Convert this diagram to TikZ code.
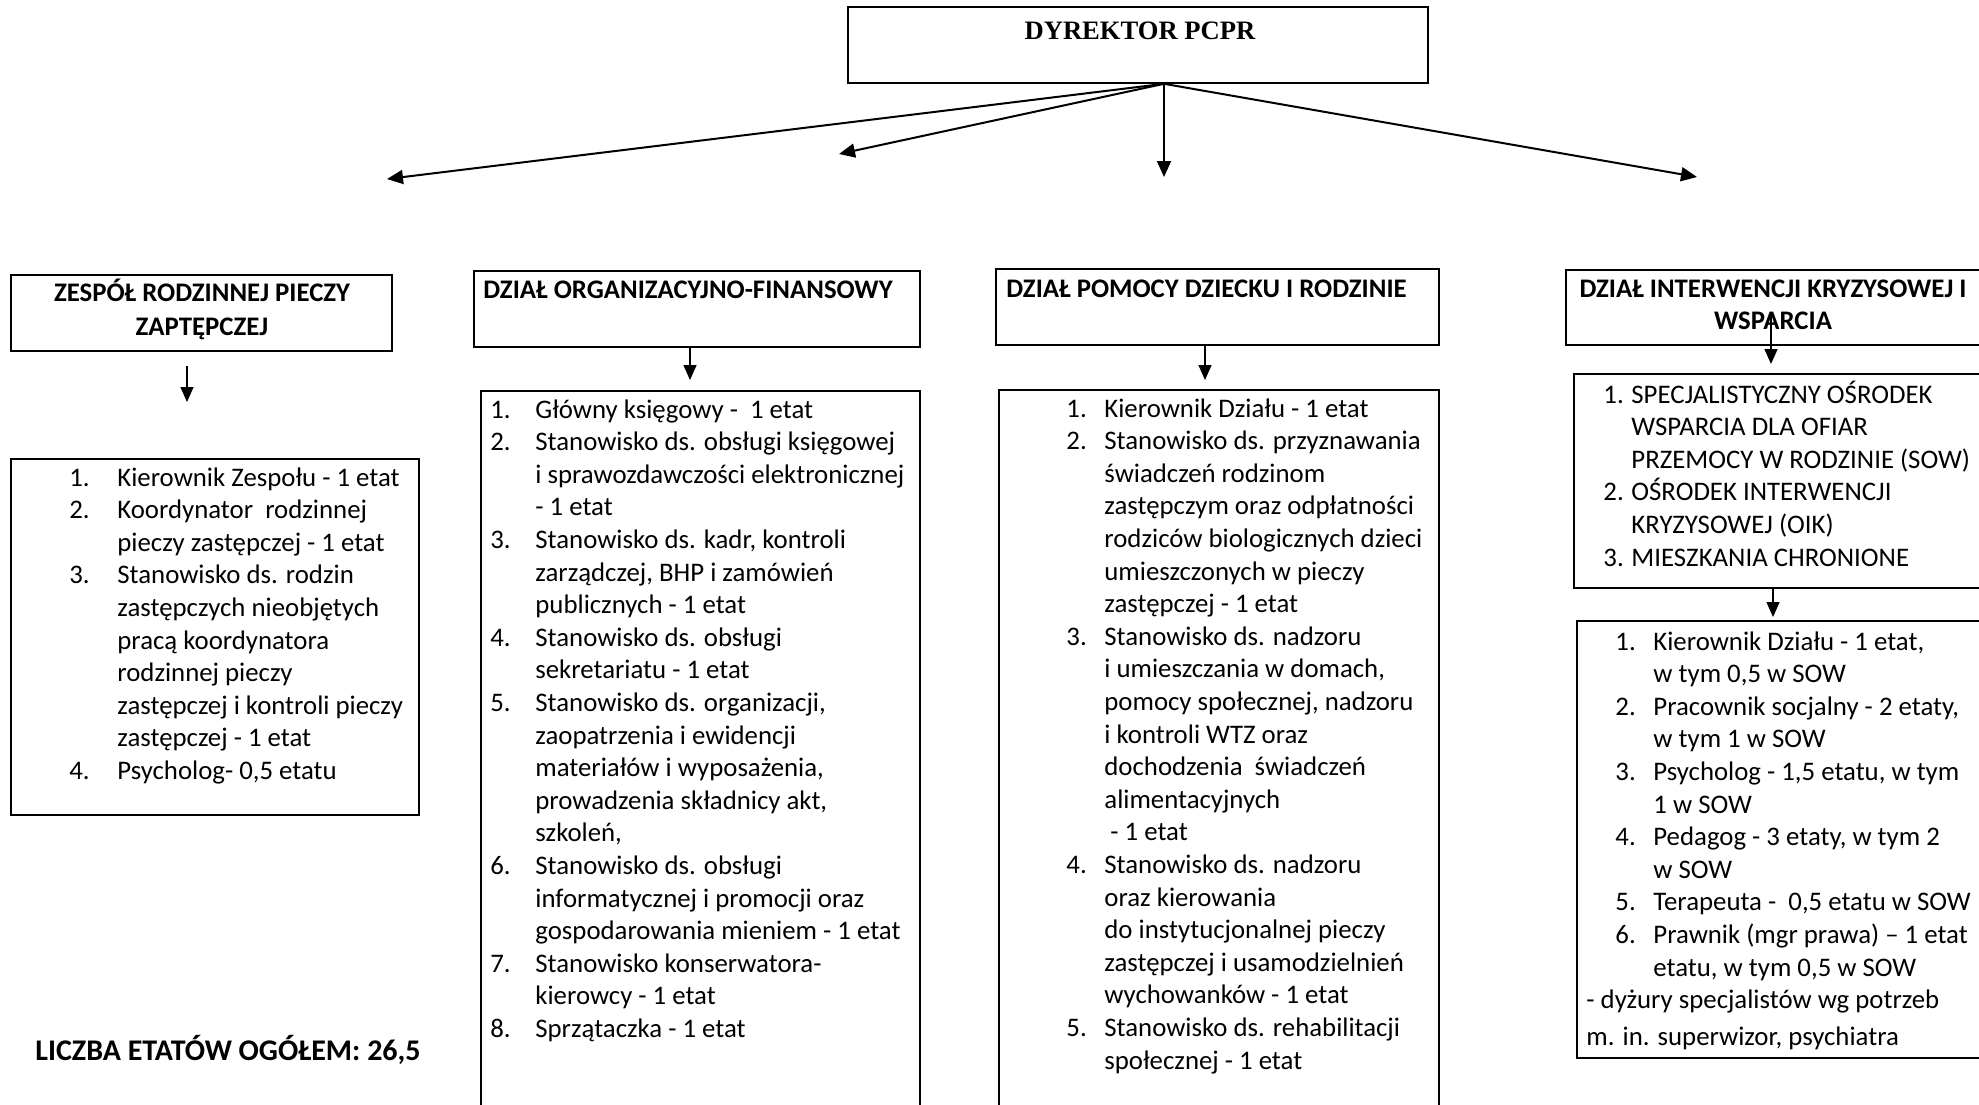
\documentclass[tikz,border=0pt]{standalone}
\usepackage{fontspec}
\setmainfont{Carlito}
\newfontfamily\dyrfont{Liberation Serif}
\usetikzlibrary{arrows.meta,positioning,calc,fit}

\newcommand{\bodysize}{\fontsize{13.4}{16.3}\selectfont}

\tikzset{
  orgbox/.style={draw, line width=0.8pt, inner sep=0pt},
  headtext/.style={inner sep=0pt, font=\bodysize\bfseries},
  listtext/.style={anchor=base west, inner sep=0pt, font=\bodysize},
  toparrow/.style={line width=1pt, -{Triangle[length=8pt,width=7pt]}},
  downarrow/.style={line width=0.7pt, -{Triangle[length=7.5pt,width=6.5pt]}}
}

\begin{document}
\begin{tikzpicture}[x=0.5pt, y=0.5pt]
  \path[use as bounding box, clip] (0,0) rectangle (1979,-1104);

  % dyrektor
  \node[orgbox, fit={(848,-7) (1428,-83)}] (dyr) {};
  \node[inner sep=0pt, anchor=base, font=\dyrfont\fontsize{13.3}{16}\selectfont\bfseries] (dyrText) at (1140,-39) {DYREKTOR PCPR};

  \coordinate (dyrFoot) at ([xshift=13pt]dyr.south);
  \coordinate (tipZrp) at (387,-179);
  \coordinate (tipOf) at (839,-154);
  \coordinate (tipDpd) at (1164,-177);
  \coordinate (tipDik) at (1697,-177);
  \foreach \t in {tipZrp,tipOf,tipDpd,tipDik}
    \draw[toparrow] (dyrFoot) -- (\t);

  % zespol rodzinnej pieczy
  \node[orgbox, fit={(11,-275) (392,-351)}] (zrpHead) {};
  \node[headtext, anchor=base] (zrpHeadText) at (202,-301) {%
    \begin{tabular}[t]{@{}c@{}}ZESPÓŁ RODZINNEJ PIECZY\\[0.7pt] ZAPTĘPCZEJ\end{tabular}};
  \coordinate (zrpArrTop) at (187,-366);
  \coordinate (zrpArrTip) at (187,-402);
  \draw[downarrow] (zrpArrTop) -- (zrpArrTip);
  \node[orgbox, fit={(11,-459) (419,-815)}] (zrpBody) {};
  \node[listtext] (zrpList) at (69,-486) {%
    \begin{tabular}[t]{@{}p{24pt}@{}l@{}}
    1. & Kierownik Zespołu - 1 etat\\
    2. & Koordynator\ \ rodzinnej\\
       & pieczy zastępczej - 1 etat\\
    3. & Stanowisko ds. rodzin\\
       & zastępczych nieobjętych\\
       & pracą koordynatora\\
       & rodzinnej pieczy\\
       & zastępczej i kontroli pieczy\\
       & zastępczej - 1 etat\\
    4. & Psycholog- 0,5 etatu
    \end{tabular}};

  \node[anchor=base west, inner sep=0pt, font=\fontsize{15}{18}\selectfont\bfseries] (liczba) at (35,-1060) {LICZBA ETATÓW OGÓŁEM: 26,5};

  % dzial organizacyjno-finansowy
  \node[orgbox, fit={(474,-271) (920,-347)}] (ofHead) {};
  \node[headtext, anchor=base west] (ofHeadText) at (483,-298) {DZIAŁ ORGANIZACYJNO-FINANSOWY};
  \coordinate (ofTip) at (690,-380);
  \draw[downarrow] (ofHead.south -| ofTip) -- (ofTip);
  \node[orgbox, fit={(481,-391) (920,-1120)}] (ofBody) {};
  \node[listtext] (ofList) at (490,-418) {%
    \begin{tabular}[t]{@{}p{22.5pt}@{}l@{}}
    1. & Główny księgowy -\ \ 1 etat\\
    2. & Stanowisko ds. obsługi księgowej\\
       & i sprawozdawczości elektronicznej\\
       & - 1 etat\\
    3. & Stanowisko ds. kadr, kontroli\\
       & zarządczej, BHP i zamówień\\
       & publicznych - 1 etat\\
    4. & Stanowisko ds. obsługi\\
       & sekretariatu - 1 etat\\
    5. & Stanowisko ds. organizacji,\\
       & zaopatrzenia i ewidencji\\
       & materiałów i wyposażenia,\\
       & prowadzenia składnicy akt,\\
       & szkoleń,\\
    6. & Stanowisko ds. obsługi\\
       & informatycznej i promocji oraz\\
       & gospodarowania mieniem - 1 etat\\
    7. & Stanowisko konserwatora-\\
       & kierowcy - 1 etat\\
    8. & Sprzątaczka - 1 etat
    \end{tabular}};

  % dzial pomocy dziecku i rodzinie
  \node[orgbox, fit={(996,-269) (1439,-345)}] (dpdHead) {};
  \node[headtext, anchor=base west] (dpdHeadText) at (1006,-297) {DZIAŁ POMOCY DZIECKU I RODZINIE};
  \coordinate (dpdTip) at (1205,-380);
  \draw[downarrow] (dpdHead.south -| dpdTip) -- (dpdTip);
  \node[orgbox, fit={(999,-390) (1439,-1120)}] (dpdBody) {};
  \node[listtext] (dpdList) at (1066,-417) {%
    \begin{tabular}[t]{@{}p{19pt}@{}l@{}}
    1. & Kierownik Działu - 1 etat\\
    2. & Stanowisko ds. przyznawania\\
       & świadczeń rodzinom\\
       & zastępczym oraz odpłatności\\
       & rodziców biologicznych dzieci\\
       & umieszczonych w pieczy\\
       & zastępczej - 1 etat\\
    3. & Stanowisko ds. nadzoru\\
       & i umieszczania w domach,\\
       & pomocy społecznej, nadzoru\\
       & i kontroli WTZ oraz\\
       & dochodzenia\ \ świadczeń\\
       & alimentacyjnych\\
       & \ - 1 etat\\
    4. & Stanowisko ds. nadzoru\\
       & oraz kierowania\\
       & do instytucjonalnej pieczy\\
       & zastępczej i usamodzielnień\\
       & wychowanków - 1 etat\\
    5. & Stanowisko ds. rehabilitacji\\
       & społecznej - 1 etat
    \end{tabular}};

  % dzial interwencji kryzysowej i wsparcia
  \node[orgbox, fit={(1566,-270) (1985,-345)}] (dikHead) {};
  \node[headtext, anchor=base] (dikHeadText) at (1773,-297) {%
    \begin{tabular}[t]{@{}c@{}}DZIAŁ INTERWENCJI KRYZYSOWEJ I\\ WSPARCIA\end{tabular}};
  \coordinate (dikStart) at (1771,-313);
  \coordinate (dikTip) at (1771,-364);
  \draw[downarrow] (dikStart) -- (dikTip);
  \node[orgbox, fit={(1574,-374) (1985,-588)}] (dikInst) {};
  \node[listtext] (dikInstList) at (1603,-403) {%
    \begin{tabular}[t]{@{}p{14pt}@{}l@{}}
    1. & SPECJALISTYCZNY OŚRODEK\\
       & WSPARCIA DLA OFIAR\\
       & PRZEMOCY W RODZINIE (SOW)\\
    2. & OŚRODEK INTERWENCJI\\
       & KRYZYSOWEJ (OIK)\\
    3. & MIESZKANIA CHRONIONE
    \end{tabular}};
  \coordinate (sowTip) at (1773,-617);
  \draw[downarrow] (dikInst.south -| sowTip) -- (sowTip);
  \node[orgbox, fit={(1577,-621) (1985,-1058)}] (dikStaff) {};
  \node[listtext] (dikStaffList) at (1586,-650) {%
    \begin{tabular}[t]{@{\hspace{14.5pt}}p{19pt}@{}l@{}}
    1. & Kierownik Działu - 1 etat,\\
       & w tym 0,5 w SOW\\
    2. & Pracownik socjalny - 2 etaty,\\
       & w tym 1 w SOW\\
    3. & Psycholog - 1,5 etatu, w tym\\
       & 1 w SOW\\
    4. & Pedagog - 3 etaty, w tym 2\\
       & w SOW\\
    5. & Terapeuta -\ \ 0,5 etatu w SOW\\
    6. & Prawnik (mgr prawa) – 1 etat\\
       & etatu, w tym 0,5 w SOW\\
    \multicolumn{2}{@{}l@{}}{- dyżury specjalistów wg potrzeb}\\[2pt]
    \multicolumn{2}{@{}l@{}}{m. in. superwizor, psychiatra}
    \end{tabular}};
\end{tikzpicture}
\end{document}
